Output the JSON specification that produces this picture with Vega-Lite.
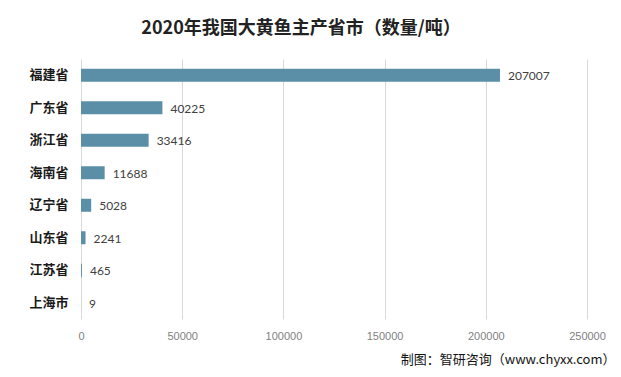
{
  "$schema": "https://vega.github.io/schema/vega-lite/v6.json",
  "autosize": {"type": "none"},
  "width": 506,
  "height": 260,
  "padding": {"left": 81, "top": 59, "right": 34, "bottom": 58},
  "background": "white",
  "title": {
    "text": "2020年我国大黄鱼主产省市（数量/吨）",
    "font": "Noto Sans CJK SC",
    "fontSize": 18,
    "fontWeight": "bold",
    "color": "#222222",
    "anchor": "middle",
    "dx": -33,
    "offset": 21
  },
  "data": {
    "values": [
      {"province": "福建省", "value": 207007},
      {"province": "广东省", "value": 40225},
      {"province": "浙江省", "value": 33416},
      {"province": "海南省", "value": 11688},
      {"province": "辽宁省", "value": 5028},
      {"province": "山东省", "value": 2241},
      {"province": "江苏省", "value": 465},
      {"province": "上海市", "value": 9}
    ]
  },
  "encoding": {
    "y": {
      "field": "province",
      "type": "nominal",
      "sort": null,
      "scale": {"paddingInner": 0.6, "paddingOuter": 0.3},
      "axis": {
        "title": null,
        "domain": false,
        "ticks": false,
        "labelFont": "Noto Sans CJK SC",
        "labelFontSize": 13,
        "labelFontWeight": "bold",
        "labelColor": "#1a1a1a",
        "labelPadding": 13
      }
    },
    "x": {
      "field": "value",
      "type": "quantitative",
      "scale": {"domain": [0, 250000], "nice": false},
      "axis": {
        "values": [0, 50000, 100000, 150000, 200000, 250000],
        "format": "d",
        "domain": false,
        "ticks": false,
        "grid": true,
        "gridColor": "#d9d9d9",
        "labelFlush": false,
        "labelFont": "Liberation Sans",
        "labelFontSize": 11,
        "labelColor": "#7f7f7f",
        "labelPadding": 11,
        "title": "制图：智研咨询（www.chyxx.com）",
        "titleFont": "Noto Sans CJK SC",
        "titleFontSize": 13,
        "titleFontWeight": "normal",
        "titleColor": "#111111",
        "titleAnchor": "end",
        "titleAlign": "right",
        "titleBaseline": "middle",
        "titleX": 534,
        "titleY": 40
      }
    }
  },
  "layer": [
    {"mark": {"type": "bar", "color": "#5b8fa7"}},
    {
      "mark": {"type": "text", "align": "left", "dx": 8, "dy": 1, "font": "Lato", "fontSize": 12, "color": "#404040"},
      "encoding": {"text": {"field": "value", "type": "quantitative", "format": "d"}}
    }
  ],
  "config": {"view": {"stroke": null}}
}
